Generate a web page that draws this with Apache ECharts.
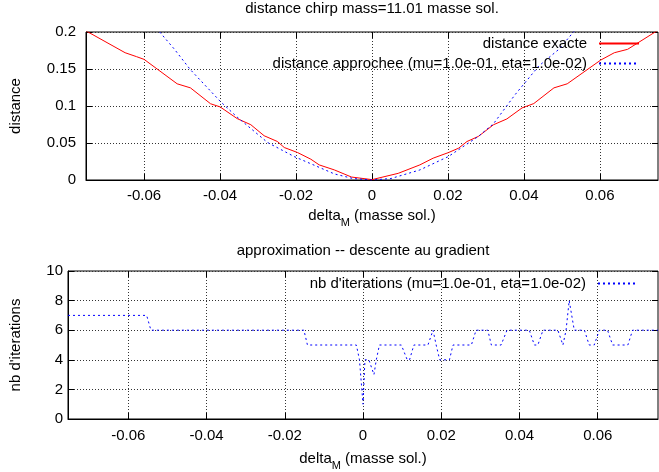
<!DOCTYPE html>
<html>
<head>
<meta charset="utf-8">
<script src="https://cdn.jsdelivr.net/npm/echarts@6/dist/echarts.min.js"></script>
<style>
html,body{margin:0;padding:0;background:#fff;}
#chart{width:659px;height:472px;}
</style>
</head>
<body>
<div id="chart"></div>
<script>
// ---- data ----
var xTicks = [-0.06, -0.04, -0.02, 0, 0.02, 0.04, 0.06];
var xTickLabels = ['-0.06', '-0.04', '-0.02', '0', '0.02', '0.04', '0.06'];

var exactX = [-0.0753, -0.065, -0.062, -0.060, -0.0513, -0.0478, -0.0425, -0.040, -0.0355, -0.0319, -0.0284, -0.0249, -0.0231, -0.0196, -0.0161, -0.0139, -0.0099, -0.0054, 0, 0.0069, 0.0126, 0.0161, 0.0201, 0.0228, 0.025, 0.028, 0.032, 0.0355, 0.0395, 0.0426, 0.0479, 0.0514, 0.0602, 0.0638, 0.0673, 0.0753];
var exactY = [0.2015, 0.172, 0.1667, 0.163, 0.130, 0.1245, 0.103, 0.0988, 0.083, 0.0747, 0.0598, 0.052, 0.0439, 0.0371, 0.0281, 0.0204, 0.0136, 0.004, 0.0005, 0.009, 0.0204, 0.0295, 0.037, 0.043, 0.052, 0.0589, 0.0747, 0.0825, 0.0974, 0.1033, 0.1245, 0.130, 0.162, 0.172, 0.1766, 0.2024];

var approxX = [-0.0559, -0.052, -0.0478, -0.0399, -0.0355, -0.0275, -0.0205, -0.0099, -0.005, 0, 0.005, 0.0126, 0.0201, 0.028, 0.032, 0.0377, 0.0439, 0.0492, 0.0533];
var approxY = [0.2, 0.1766, 0.149, 0.106, 0.085, 0.0507, 0.0317, 0.0082, 0.002, 0, 0.002, 0.0136, 0.0317, 0.0589, 0.0761, 0.1155, 0.154, 0.1766, 0.2015];

var iterX = [-0.0754, -0.0553, -0.0542, -0.0151, -0.0142, -0.0017, -0.0009, 0, 0.0005, 0.0015, 0.0028, 0.0034, 0.0042, 0.0098, 0.0113, 0.0119, 0.013, 0.0166, 0.0179, 0.0187, 0.0196, 0.0221, 0.023, 0.0277, 0.0289, 0.0319, 0.0328, 0.0353, 0.0368, 0.0425, 0.0438, 0.0447, 0.046, 0.0498, 0.0511, 0.0519, 0.0527, 0.054, 0.0566, 0.0578, 0.0591, 0.0604, 0.0625, 0.0638, 0.0677, 0.0689, 0.0754];
var iterY = [7, 7, 6, 6, 5, 5, 4, 1, 4, 4, 3, 4, 5, 5, 4, 4, 5, 5, 6, 5, 4, 4, 5, 5, 6, 6, 5, 5, 6, 6, 5, 5, 6, 6, 5, 6, 8, 6, 6, 5, 5, 6, 6, 5, 5, 6, 6];

var nameExact = 'distance exacte';
var nameApprox = 'distance approchee (mu=1.0e-01, eta=1.0e-02)';
var nameIter = "nb d'iterations (mu=1.0e-01, eta=1.0e-02)";

function pairs(xs, ys) { return xs.map(function (x, i) { return [x, ys[i]]; }); }

var FONT = 'Liberation Sans, Arial, sans-serif';
var FS = 15;
var gridLine = { show: true, lineStyle: { color: '#333', type: [1, 2], width: 1 } };

function xAxisMain(grid, min, max, nameGap, labelMargin) {
  return {
    type: 'value', gridIndex: grid, min: min, max: max, position: 'bottom',
    axisLine: { show: true, onZero: false, lineStyle: { color: '#000', width: 1 } },
    axisTick: { show: true, inside: true, length: 6, customValues: xTicks, lineStyle: { color: '#000' } },
    axisLabel: { show: true, customValues: xTicks, margin: labelMargin, color: '#000', fontFamily: FONT, fontSize: FS,
      formatter: function (v) { var i = xTicks.indexOf(v); return i >= 0 ? xTickLabels[i] : String(v); } },
    splitLine: gridLine,
    name: '{a|delta}{s|M}{b| (masse sol.)}', nameLocation: 'middle', nameGap: nameGap,
    nameTextStyle: { color: '#000', fontFamily: FONT, fontSize: FS,
      rich: {
        a: { fontFamily: FONT, fontSize: FS, color: '#000', padding: [0, 0, 5, 0], verticalAlign: 'bottom' },
        b: { fontFamily: FONT, fontSize: FS, color: '#000', padding: [0, 0, 5, 0], verticalAlign: 'bottom' },
        s: { fontFamily: FONT, fontSize: 11, color: '#000', verticalAlign: 'bottom' }
      } }
  };
}
function xAxisMirror(grid, min, max) {
  return {
    type: 'value', gridIndex: grid, min: min, max: max, position: 'top',
    axisLine: { show: false, onZero: false },
    axisTick: { show: true, inside: true, length: 6, customValues: xTicks, lineStyle: { color: '#000' } },
    axisLabel: { show: false, customValues: xTicks },
    splitLine: { show: false }
  };
}
function yAxisMain(grid, max, interval, name, nameGap, labelMargin, fmt) {
  return {
    type: 'value', gridIndex: grid, min: 0, max: max, interval: interval, position: 'left',
    axisLine: { show: true, onZero: false, lineStyle: { color: '#000', width: 1 } },
    axisTick: { show: true, inside: true, length: 6, lineStyle: { color: '#000' } },
    axisLabel: { margin: labelMargin, color: '#000', fontFamily: FONT, fontSize: FS, formatter: fmt },
    splitLine: gridLine,
    name: name, nameLocation: 'middle', nameGap: nameGap, nameRotate: 90,
    nameTextStyle: { color: '#000', fontFamily: FONT, fontSize: FS }
  };
}
function yAxisMirror(grid, max, interval) {
  return {
    type: 'value', gridIndex: grid, min: 0, max: max, interval: interval, position: 'right',
    axisLine: { show: false, onZero: false },
    axisTick: { show: true, inside: true, length: 6, lineStyle: { color: '#000' } },
    axisLabel: { show: false },
    splitLine: { show: false }
  };
}

var chart = echarts.init(document.getElementById('chart'), null, { renderer: 'canvas' });
var option = {
  backgroundColor: '#fff',
  animation: false,
  title: [
    { text: 'distance chirp mass=11.01 masse sol.', left: 372, top: 1, padding: 0, textAlign: 'center',
      textStyle: { fontFamily: FONT, fontSize: FS, fontWeight: 'normal', color: '#000' } },
    { text: 'approximation -- descente au gradient', left: 363, top: 243, padding: 0, textAlign: 'center',
      textStyle: { fontFamily: FONT, fontSize: FS, fontWeight: 'normal', color: '#000' } }
  ],
  grid: [
    { left: 85, top: 32, width: 573, height: 148, show: true, borderColor: '#000', borderWidth: 1, backgroundColor: 'transparent' },
    { left: 67, top: 271, width: 591, height: 149, show: true, borderColor: '#000', borderWidth: 1, backgroundColor: 'transparent' }
  ],
  legend: [
    { data: [nameExact, nameApprox], orient: 'vertical', align: 'right', right: 14, top: 31,
      itemWidth: 40, itemHeight: 12, itemGap: 5, itemStyle: { opacity: 0 },
      textStyle: { fontFamily: FONT, fontSize: FS, color: '#000', padding: [0, 7, 0, 0] } },
    { data: [nameIter], orient: 'vertical', align: 'right', right: 15, top: 271,
      itemWidth: 40, itemHeight: 12, itemGap: 5, itemStyle: { opacity: 0 },
      textStyle: { fontFamily: FONT, fontSize: FS, color: '#000', padding: [0, 7, 0, 0] } }
  ],
  xAxis: [
    xAxisMain(0, -0.0753, 0.0753, 28, 8),
    xAxisMirror(0, -0.0753, 0.0753),
    xAxisMain(1, -0.0754, 0.0754, 32, 9),
    xAxisMirror(1, -0.0754, 0.0754)
  ],
  yAxis: [
    yAxisMain(0, 0.2, 0.05, 'distance', 63, 10, function (v) { return String(+v.toFixed(2)); }),
    yAxisMirror(0, 0.2, 0.05),
    yAxisMain(1, 10, 2, "nb d'iterations", 45, 5, function (v) { return String(v); }),
    yAxisMirror(1, 10, 2)
  ],
  series: [
    { name: nameExact, type: 'line', xAxisIndex: 0, yAxisIndex: 0, symbol: 'none', showSymbol: false,
      lineStyle: { color: '#ff0000', width: 1 }, itemStyle: { color: '#ff0000' }, data: pairs(exactX, exactY) },
    { name: nameApprox, type: 'line', xAxisIndex: 0, yAxisIndex: 0, symbol: 'none', showSymbol: false,
      lineStyle: { color: '#0000ff', width: 1, type: [2, 3] }, itemStyle: { color: '#0000ff' }, data: pairs(approxX, approxY) },
    { name: nameIter, type: 'line', xAxisIndex: 2, yAxisIndex: 2, symbol: 'none', showSymbol: false,
      lineStyle: { color: '#0000ff', width: 1, type: [2, 3] }, itemStyle: { color: '#0000ff' }, data: pairs(iterX, iterY) }
  ]
};
chart.setOption(option);
</script>
</body>
</html>
